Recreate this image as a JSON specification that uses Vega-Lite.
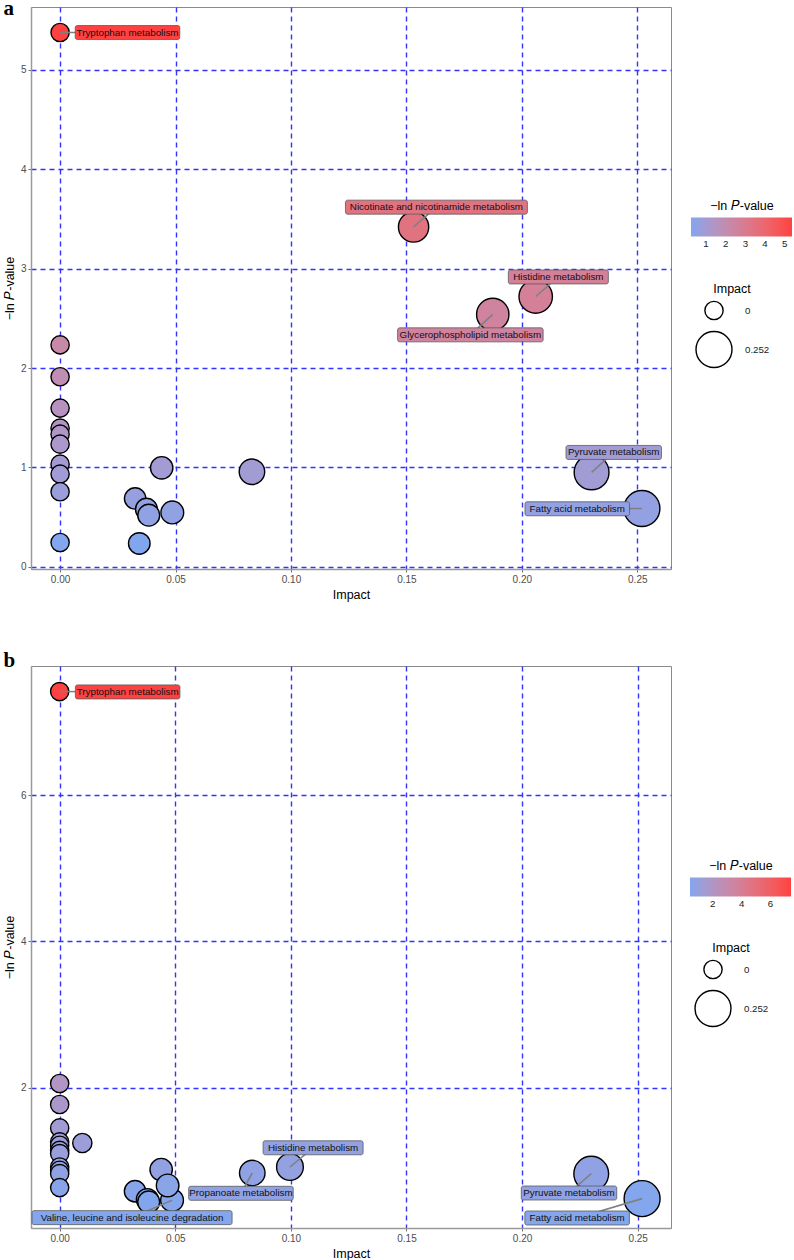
{
  "$schema": "https://vega.github.io/schema/vega-lite/v6.json",
  "background": "white",
  "padding": {"left": 2, "top": -3, "right": 0, "bottom": 0},
  "spacing": 48,
  "config": {
    "font": "Liberation Sans",
    "view": {"stroke": "#8a8a8a", "strokeWidth": 1},
    "axis": {
      "grid": true, "gridColor": "#3333ff", "gridDash": [5, 4], "gridWidth": 1.4, "gridOpacity": 1,
      "domainColor": "#9a9a9a", "domainWidth": 1.5,
      "tickColor": "#4d4d4d", "tickSize": 3, "tickWidth": 0.8,
      "labelColor": "#4d4d4d", "labelFontSize": 10, "labelFont": "Liberation Sans",
      "titleColor": "black", "titleFontSize": 12.5, "titleFontWeight": "normal", "titleFont": "Liberation Sans"
    },
    "axisX": {"gridColor": "#3333ff", "gridDash": [5, 4], "gridWidth": 1.4},
    "axisY": {"gridColor": "#3333ff", "gridDash": [5, 4], "gridWidth": 1.4},
    "legend": {"titleFontSize": 12.5, "titleFontWeight": "normal", "labelFontSize": 9.7, "titleColor": "black", "labelColor": "#1a1a1a", "titleFont": "Liberation Sans", "labelFont": "Liberation Sans"}
  },
  "resolve": {"scale": {"fill": "independent", "size": "independent", "x": "independent", "y": "independent"}, "legend": {"fill": "independent", "size": "independent"}},
  "vconcat": [
    {
      "width": 640, "height": 562,
      "title": {"text": "a", "anchor": "start", "frame": "bounds", "font": "Liberation Serif", "fontSize": 21, "fontWeight": "bold", "color": "black", "offset": -12},
      "data": {"values": [
        {"label": "Tryptophan metabolism", "impact": 0, "lnp": 5.376, "label_impact": 0.0292, "label_lnp": 5.376},
        {"label": "Nicotinate and nicotinamide metabolism", "impact": 0.1531, "lnp": 3.42, "label_impact": 0.163, "label_lnp": 3.619},
        {"label": "Histidine metabolism", "impact": 0.206, "lnp": 2.72, "label_impact": 0.2158, "label_lnp": 2.917},
        {"label": "Glycerophospholipid metabolism", "impact": 0.1874, "lnp": 2.54, "label_impact": 0.1777, "label_lnp": 2.334},
        {"label": "Pyruvate metabolism", "impact": 0.2302, "lnp": 0.95, "label_impact": 0.2398, "label_lnp": 1.151},
        {"label": "Fatty acid metabolism", "impact": 0.252, "lnp": 0.587, "label_impact": 0.224, "label_lnp": 0.584},
        {"impact": 0, "lnp": 2.233}, {"impact": 0, "lnp": 1.912}, {"impact": 0, "lnp": 1.597},
        {"impact": 0, "lnp": 1.395}, {"impact": 0, "lnp": 1.335}, {"impact": 0, "lnp": 1.234},
        {"impact": 0, "lnp": 1.033}, {"impact": 0, "lnp": 0.933}, {"impact": 0, "lnp": 0.755},
        {"impact": 0, "lnp": 0.245},
        {"impact": 0.044, "lnp": 0.996}, {"impact": 0.0831, "lnp": 0.956}, {"impact": 0.0325, "lnp": 0.688},
        {"impact": 0.0374, "lnp": 0.58}, {"impact": 0.0384, "lnp": 0.52}, {"impact": 0.0486, "lnp": 0.547},
        {"impact": 0.0343, "lnp": 0.235}
      ]},
      "layer": [
        {
          "mark": {"type": "circle", "opacity": 1, "stroke": "black", "strokeWidth": 1.4},
          "encoding": {
            "x": {"field": "impact", "type": "quantitative", "title": "Impact", "scale": {"domain": [-0.0126, 0.2646], "nice": false, "zero": false}, "axis": {"values": [0, 0.05, 0.1, 0.15, 0.2, 0.25], "format": ".2f", "gridColor": "#3333ff", "gridDash": [5, 4]}},
            "y": {"field": "lnp", "type": "quantitative", "title": "−ln 𝑃-value", "scale": {"domain": [-0.022, 5.633], "nice": false, "zero": false}, "axis": {"values": [0, 1, 2, 3, 4, 5], "format": "d", "gridColor": "#3333ff", "gridDash": [5, 4]}},
            "fill": {"field": "lnp", "type": "quantitative", "title": "−ln 𝑃-value", "scale": {"range": ["#82A6EE", "#FF4141"], "interpolate": "lab"}, "legend": {"orient": "none", "direction": "horizontal", "legendX": 660, "legendY": 193, "gradientLength": 101, "gradientThickness": 19, "values": [1, 2, 3, 4, 5], "titleAnchor": "middle", "gradientStrokeWidth": 0}},
            "size": {"field": "impact", "type": "quantitative", "title": "Impact", "scale": {"domain": [0, 0.252], "range": [333, 1295], "zero": false}, "legend": {"orient": "none", "legendX": 664, "legendY": 276, "values": [0, 0.252], "format": ".3~f", "titleAnchor": "middle", "symbolFillColor": "white", "symbolStrokeColor": "black", "symbolStrokeWidth": 1.4, "symbolOpacity": 1, "labelOffset": 12, "rowPadding": 6}}
          }
        },
        {
          "transform": [{"filter": "datum.label != null"}],
          "mark": {"type": "rule", "color": "#808080", "strokeWidth": 1.6},
          "encoding": {
            "x": {"field": "impact", "type": "quantitative", "title": "Impact"},
            "y": {"field": "lnp", "type": "quantitative", "title": "−ln 𝑃-value"},
            "x2": {"field": "label_impact"},
            "y2": {"field": "label_lnp"}
          }
        },
        {
          "transform": [{"filter": "datum.label != null"}],
          "mark": {"type": "rect", "cornerRadius": 2, "stroke": "#5a5a5a", "strokeWidth": 0.8, "opacity": 1,
                   "xOffset": {"expr": "-(length(datum.label)*2.275+4.5)"}, "x2Offset": {"expr": "length(datum.label)*2.275+4.5"},
                   "yOffset": -7, "y2Offset": 7},
          "encoding": {
            "x": {"field": "label_impact", "type": "quantitative", "title": "Impact"},
            "x2": {"field": "label_impact"},
            "y": {"field": "label_lnp", "type": "quantitative", "title": "−ln 𝑃-value"},
            "y2": {"field": "label_lnp"},
            "fill": {"field": "lnp", "type": "quantitative", "title": "−ln 𝑃-value"}
          }
        },
        {
          "transform": [{"filter": "datum.label != null"}],
          "mark": {"type": "text", "fontSize": 9.8, "color": "#111111", "align": "center", "baseline": "middle"},
          "encoding": {
            "x": {"field": "label_impact", "type": "quantitative", "title": "Impact"},
            "y": {"field": "label_lnp", "type": "quantitative", "title": "−ln 𝑃-value"},
            "text": {"field": "label"}
          }
        }
      ]
    },
    {
      "width": 640, "height": 562,
      "title": {"text": "b", "anchor": "start", "frame": "bounds", "font": "Liberation Serif", "fontSize": 21, "fontWeight": "bold", "color": "black", "offset": -5},
      "data": {"values": [
        {"label": "Tryptophan metabolism", "impact": 0, "lnp": 7.42, "label_impact": 0.0294, "label_lnp": 7.415},
        {"label": "Histidine metabolism", "impact": 0.0996, "lnp": 0.912, "label_impact": 0.1096, "label_lnp": 1.175},
        {"label": "Propanoate metabolism", "impact": 0.0833, "lnp": 0.83, "label_impact": 0.0784, "label_lnp": 0.552},
        {"label": "Valine, leucine and isoleucine degradation", "impact": 0.0486, "lnp": 0.456, "label_impact": 0.0313, "label_lnp": 0.219},
        {"label": "Pyruvate metabolism", "impact": 0.2299, "lnp": 0.82, "label_impact": 0.2203, "label_lnp": 0.556},
        {"label": "Fatty acid metabolism", "impact": 0.2519, "lnp": 0.479, "label_impact": 0.2238, "label_lnp": 0.214},
        {"impact": 0, "lnp": 2.055}, {"impact": 0, "lnp": 1.767}, {"impact": 0, "lnp": 1.447},
        {"impact": 0, "lnp": 1.255}, {"impact": 0, "lnp": 1.21}, {"impact": 0, "lnp": 1.14},
        {"impact": 0, "lnp": 1.096}, {"impact": 0, "lnp": 0.912}, {"impact": 0, "lnp": 0.867},
        {"impact": 0, "lnp": 0.822}, {"impact": 0, "lnp": 0.63},
        {"impact": 0.0098, "lnp": 1.24}, {"impact": 0.0439, "lnp": 0.877}, {"impact": 0.0467, "lnp": 0.66},
        {"impact": 0.0326, "lnp": 0.58}, {"impact": 0.0379, "lnp": 0.466}, {"impact": 0.0385, "lnp": 0.433}
      ]},
      "layer": [
        {
          "mark": {"type": "circle", "opacity": 1, "stroke": "black", "strokeWidth": 1.4},
          "encoding": {
            "x": {"field": "impact", "type": "quantitative", "title": "Impact", "scale": {"domain": [-0.0124, 0.2644], "nice": false, "zero": false}, "axis": {"values": [0, 0.05, 0.1, 0.15, 0.2, 0.25], "format": ".2f", "gridColor": "#3333ff", "gridDash": [5, 4]}},
            "y": {"field": "lnp", "type": "quantitative", "title": "−ln 𝑃-value", "scale": {"domain": [0.077, 7.77], "nice": false, "zero": false}, "axis": {"values": [2, 4, 6], "format": "d", "gridColor": "#3333ff", "gridDash": [5, 4]}},
            "fill": {"field": "lnp", "type": "quantitative", "title": "−ln 𝑃-value", "scale": {"range": ["#82A6EE", "#FF4141"], "interpolate": "lab"}, "legend": {"orient": "none", "direction": "horizontal", "legendX": 659, "legendY": 194, "gradientLength": 101, "gradientThickness": 19, "values": [2, 4, 6], "titleAnchor": "middle", "gradientStrokeWidth": 0}},
            "size": {"field": "impact", "type": "quantitative", "title": "Impact", "scale": {"domain": [0, 0.252], "range": [333, 1295], "zero": false}, "legend": {"orient": "none", "legendX": 663, "legendY": 276, "values": [0, 0.252], "format": ".3~f", "titleAnchor": "middle", "symbolFillColor": "white", "symbolStrokeColor": "black", "symbolStrokeWidth": 1.4, "symbolOpacity": 1, "labelOffset": 12, "rowPadding": 6}}
          }
        },
        {
          "transform": [{"filter": "datum.label != null"}],
          "mark": {"type": "rule", "color": "#808080", "strokeWidth": 1.6},
          "encoding": {
            "x": {"field": "impact", "type": "quantitative", "title": "Impact"},
            "y": {"field": "lnp", "type": "quantitative", "title": "−ln 𝑃-value"},
            "x2": {"field": "label_impact"},
            "y2": {"field": "label_lnp"}
          }
        },
        {
          "transform": [{"filter": "datum.label != null"}],
          "mark": {"type": "rect", "cornerRadius": 2, "stroke": "#5a5a5a", "strokeWidth": 0.8, "opacity": 1,
                   "xOffset": {"expr": "-(length(datum.label)*2.275+4.5)"}, "x2Offset": {"expr": "length(datum.label)*2.275+4.5"},
                   "yOffset": -7, "y2Offset": 7},
          "encoding": {
            "x": {"field": "label_impact", "type": "quantitative", "title": "Impact"},
            "x2": {"field": "label_impact"},
            "y": {"field": "label_lnp", "type": "quantitative", "title": "−ln 𝑃-value"},
            "y2": {"field": "label_lnp"},
            "fill": {"field": "lnp", "type": "quantitative", "title": "−ln 𝑃-value"}
          }
        },
        {
          "transform": [{"filter": "datum.label != null"}],
          "mark": {"type": "text", "fontSize": 9.8, "color": "#111111", "align": "center", "baseline": "middle"},
          "encoding": {
            "x": {"field": "label_impact", "type": "quantitative", "title": "Impact"},
            "y": {"field": "label_lnp", "type": "quantitative", "title": "−ln 𝑃-value"},
            "text": {"field": "label"}
          }
        }
      ]
    }
  ]
}
